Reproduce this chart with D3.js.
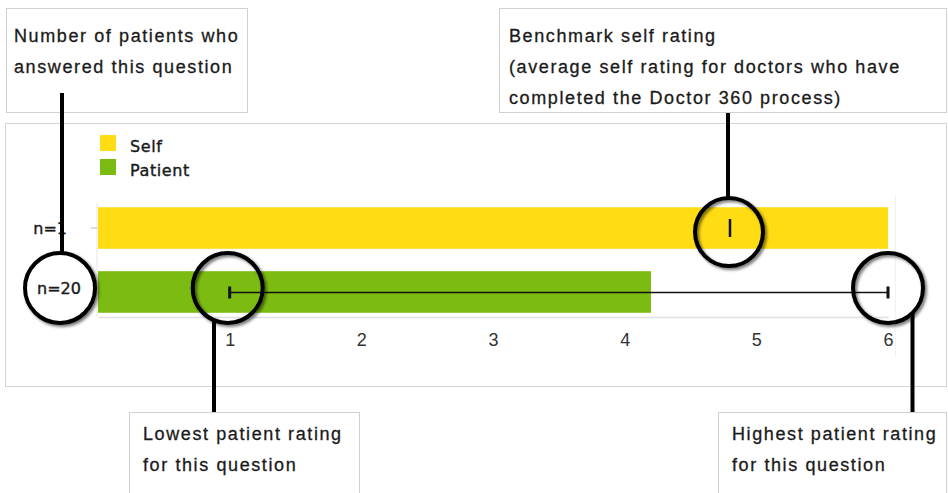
<!DOCTYPE html>
<html>
<head>
<meta charset="utf-8">
<script src="https://cdn.jsdelivr.net/npm/d3@7"></script>
<style>
  body { margin: 0; background: #fff; }
  .note text { font-family: "Liberation Sans", Arial, sans-serif; font-size: 18px; letter-spacing: 1.6px; fill: #1a1a1a; stroke: #1a1a1a; stroke-width: 0.3px; }
  .legend text, .count { font-family: "DejaVu Sans", Verdana, sans-serif; font-size: 16px; fill: #1a1a1a; stroke: #1a1a1a; stroke-width: 0.4px; }
  .x-axis text { font-family: "Liberation Sans", Arial, sans-serif; font-size: 18px; fill: #333; }
</style>
</head>
<body>
<div id="chart"></div>
<script>
// data
const series = ["Self", "Patient"];
const values = [6, 4.2];
const counts = [1, 20];
const colors = ["#ffdc14", "#7cbb12"];
const benchmark = 4.8;
const patientRange = [1, 6];
const tickValues = [1, 2, 3, 4, 5, 6];

const width = 948;
const height = 493;

const svg = d3.select("#chart").append("svg")
  .attr("width", width)
  .attr("height", height);

// soft shadow for the callout rings
const shadow = svg.append("defs").append("filter")
  .attr("id", "ring-shadow")
  .attr("x", "-30%").attr("y", "-30%")
  .attr("width", "160%").attr("height", "160%");
shadow.append("feDropShadow")
  .attr("dx", 2).attr("dy", 2)
  .attr("stdDeviation", 1.6)
  .attr("flood-color", "#000")
  .attr("flood-opacity", 0.55);

// chart panel
svg.append("rect")
  .attr("x", 5.5).attr("y", 123.5)
  .attr("width", 941).attr("height", 263)
  .attr("fill", "#fff")
  .attr("stroke", "#d4d4d4");

const x = d3.scaleLinear().domain([0, 6]).range([98, 888]);
const y = d3.scaleBand().domain(series).range([203, 317])
  .paddingInner(0.35).paddingOuter(0.066);

// faint right edge of the plot area
svg.append("line")
  .attr("x1", 895.5).attr("x2", 895.5)
  .attr("y1", 195).attr("y2", 357)
  .attr("stroke", "#f2f2f2");

// bars
svg.selectAll(".bar")
  .data(series)
  .join("rect")
  .attr("class", "bar")
  .attr("x", x(0))
  .attr("y", (d) => y(d))
  .attr("width", (d, i) => x(values[i]) - x(0))
  .attr("height", y.bandwidth())
  .attr("fill", (d, i) => colors[i]);

// axes
const xAxis = svg.append("g")
  .attr("class", "x-axis")
  .attr("transform", `translate(0,${317})`)
  .call(d3.axisBottom(x).tickValues(tickValues).tickFormat(d3.format("d")).tickSize(0).tickPadding(16));
xAxis.select(".domain").attr("stroke", "#e0e0e0").attr("stroke-width", 1.5);

const yAxis = svg.append("g")
  .attr("transform", `translate(${x(0) - 1},0)`)
  .call(d3.axisLeft(y).tickSize(6).tickFormat(""));
yAxis.select(".domain").attr("stroke", "#e6e6e6").attr("d", `M0,${203}V${317}`);
yAxis.selectAll(".tick line").attr("stroke", "#bbb");

// legend
const legend = svg.append("g").attr("class", "legend")
  .selectAll("g")
  .data(series)
  .join("g")
  .attr("transform", (d, i) => `translate(100,${135 + i * 24})`);
legend.append("rect")
  .attr("width", 16).attr("height", 16)
  .attr("fill", (d, i) => colors[i]);
legend.append("text")
  .attr("x", 30).attr("y", 16.5)
  .attr("letter-spacing", 0.6)
  .text((d) => d);

// patient range line
const py = y("Patient") + y.bandwidth() / 2 + 0.5;
svg.append("line")
  .attr("x1", x(patientRange[0])).attr("x2", x(patientRange[1]))
  .attr("y1", py).attr("y2", py)
  .attr("stroke", "#111").attr("stroke-width", 1.5);
svg.selectAll(".cap")
  .data(patientRange)
  .join("line")
  .attr("class", "cap")
  .attr("x1", (d) => x(d)).attr("x2", (d) => x(d))
  .attr("y1", py - 6).attr("y2", py + 6)
  .attr("stroke", "#111").attr("stroke-width", 3);

// benchmark marker
const sy = y("Self") + y.bandwidth() / 2;
svg.append("line")
  .attr("x1", x(benchmark)).attr("x2", x(benchmark))
  .attr("y1", sy - 9).attr("y2", sy + 9)
  .attr("stroke", "#111").attr("stroke-width", 2.5);

// count labels
svg.append("text")
  .attr("class", "count")
  .attr("x", 67).attr("y", sy + 6)
  .attr("text-anchor", "end")
  .text(`n=${counts[0]}`);

// callout boxes
const notes = [
  { x: 6.5, y: 8.5, w: 241, h: 104, tx: 14, ty: 42, lines: ["Number of patients who", "answered this question"] },
  { x: 499.5, y: 8.5, w: 447, h: 104, tx: 509, ty: 42, lines: ["Benchmark self rating", "(average self rating for doctors who have", "completed the Doctor 360 process)"] },
  { x: 129.5, y: 412.5, w: 230, h: 100, tx: 143, ty: 440, lines: ["Lowest patient rating", "for this question"] },
  { x: 718.5, y: 412.5, w: 228, h: 100, tx: 732, ty: 440, lines: ["Highest patient rating", "for this question"] }
];
const note = svg.selectAll(".note")
  .data(notes)
  .join("g")
  .attr("class", "note");
note.append("rect")
  .attr("x", (d) => d.x).attr("y", (d) => d.y)
  .attr("width", (d) => d.w).attr("height", (d) => d.h)
  .attr("fill", "#fff")
  .attr("stroke", "#d0d0d0");
note.each(function (d) {
  d3.select(this).selectAll("text")
    .data(d.lines)
    .join("text")
    .attr("x", d.tx)
    .attr("y", (t, i) => d.ty + i * 31)
    .text((t) => t);
});

// callout rings and leader lines
const py0 = y("Patient") + y.bandwidth() / 2 - 4;
const rings = [
  { cx: 60, cy: py0, r: 35, fill: "#fff", lx: 62, ly1: 93, ly2: py0 - 34 },
  { cx: x(benchmark) - 1, cy: sy + 4, r: 34, fill: "none", lx: x(benchmark) - 2, ly1: 113, ly2: sy + 4 - 33 },
  { cx: x(patientRange[0]) - 2, cy: py0, r: 35, fill: "none", lx: 214, ly1: 412, ly2: py0 + 31 },
  { cx: x(patientRange[1]), cy: py0, r: 35, fill: "none", lx: 912.5, ly1: 412, ly2: py0 + 24 }
];
svg.selectAll(".leader")
  .data(rings)
  .join("line")
  .attr("class", "leader")
  .attr("x1", (d) => d.lx).attr("x2", (d) => d.lx)
  .attr("y1", (d) => d.ly1).attr("y2", (d) => d.ly2)
  .attr("stroke", "#000").attr("stroke-width", 4);
svg.selectAll(".ring")
  .data(rings)
  .join("circle")
  .attr("class", "ring")
  .attr("cx", (d) => d.cx).attr("cy", (d) => d.cy)
  .attr("r", (d) => d.r)
  .attr("fill", (d) => d.fill)
  .attr("stroke", "#000").attr("stroke-width", 4)
  .attr("filter", "url(#ring-shadow)");

svg.append("text")
  .attr("class", "count")
  .attr("x", 59).attr("y", py0 + 6)
  .attr("text-anchor", "middle")
  .text(`n=${counts[1]}`);
</script>
</body>
</html>
